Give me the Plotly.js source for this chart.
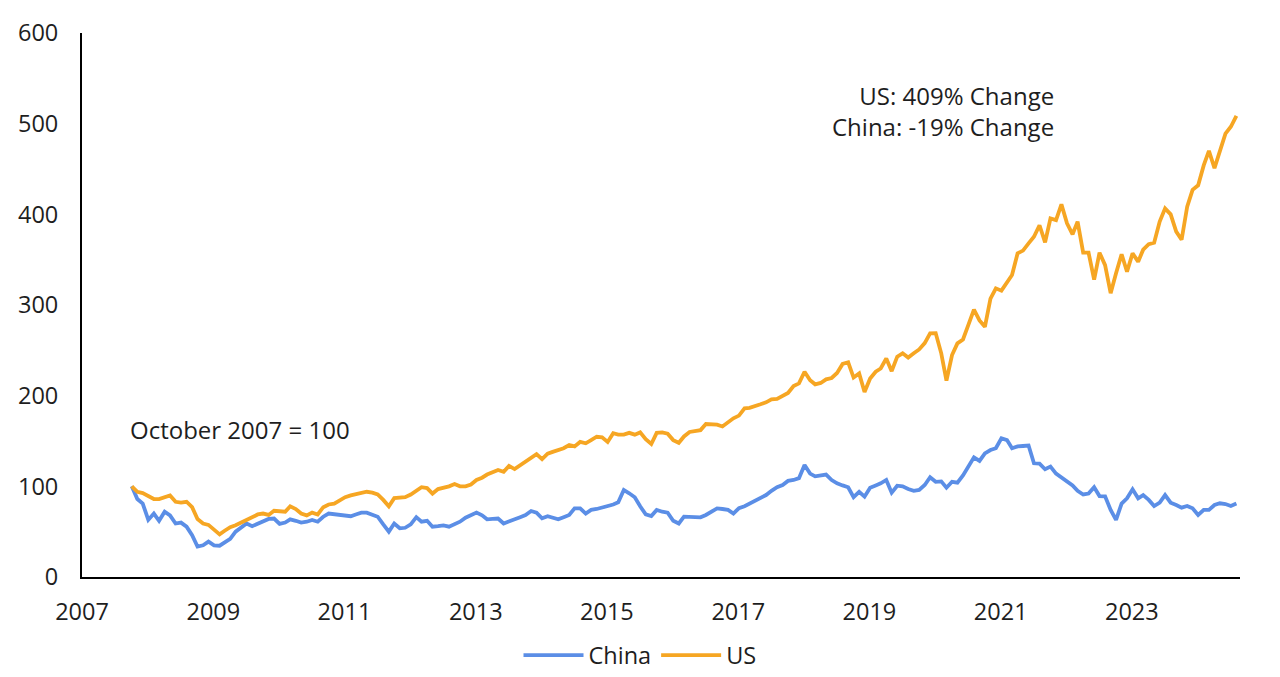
<!DOCTYPE html>
<html>
<head>
<meta charset="utf-8">
<script src="https://cdn.plot.ly/plotly-3.0.1.min.js"></script>
<style>html,body{margin:0;padding:0;background:#fff;}#chart{width:1280px;height:677px;}</style>
</head>
<body>
<div id="chart"></div>
<script>
// Monthly index values, October 2007 = 100 (Oct 2007 .. Aug 2024)
const startYear = 2007, startMonth = 10;
const seriesNames = ["China", "US"];
const chinaValues = [
  100, 86, 81,                                                  // 2007 Oct-Dec
  63, 70, 62, 72, 68, 59, 60, 55.5, 46, 33.5, 35, 39,           // 2008
  35, 34.5, 38, 42, 50, 54.4, 59, 56, 59, 62, 64, 64.5,         // 2009
  58.5, 60, 63.6, 62, 60, 61, 63, 61, 66.5, 70, 69.5, 69,       // 2010
  68, 67, 69, 71, 71, 69, 66.5, 58, 50, 59, 53.7, 54.3,         // 2011
  58, 66, 61, 62, 55.5, 56, 57, 55.5, 58, 61, 65.4, 68,         // 2012
  71, 68, 63.6, 64, 64.5, 59, 61, 63.6, 66, 68.4, 72.8, 71,     // 2013
  64.7, 67, 65, 63.6, 66, 68.4, 75.7, 75.7, 70, 74, 75, 76.5,   // 2014
  78, 80, 82.4, 96, 92.3, 88, 78, 69, 67.3, 74, 72, 71,         // 2015
  62, 59, 66.5, 66.5, 66, 65.8, 68.4, 72, 75.7, 75, 74, 70,     // 2016
  76, 78, 81, 84, 87, 90.4, 95, 99, 101.5, 106, 107, 109,       // 2017
  123.5, 114, 111, 112, 113, 107, 103.3, 101, 99, 88, 94, 88.6, // 2018
  98.5, 101, 103.3, 107, 93, 100.7, 100, 97, 95, 96, 101.5, 110,// 2019
  105, 105.5, 98.5, 105, 104, 112, 122, 132, 128, 136.4, 140, 142, // 2020
  153, 151, 142, 144, 144.5, 145, 125.4, 125, 118.8, 121.7, 114, 110, // 2021
  106, 101, 95, 91, 92, 99, 89.3, 89, 74, 63, 81, 86.8,         // 2022
  96.7, 86.8, 90.4, 85, 78.3, 82, 90.4, 82, 79.4, 76.5, 78.3, 75.7, // 2023
  68.4, 74, 74, 79.4, 81.3, 80.5, 78.3, 81                      // 2024 Jan-Aug
];
const usValues = [
  100, 94, 92.5,                                                // 2007 Oct-Dec
  89, 86, 86, 88, 90, 83, 82, 83, 77, 64, 59, 57.5,             // 2008
  52, 47, 51, 55, 57, 60, 63, 66.5, 69, 70, 68.5, 73,           // 2009
  73, 72, 78, 75, 70, 68, 71, 69, 77, 80, 81, 85,               // 2010
  88, 90, 91, 92, 94, 93, 91, 85, 78, 87, 87.5, 88,             // 2011
  91, 95, 99, 98, 92, 97, 98, 100, 102.5, 100, 100, 102,        // 2012
  107, 109.5, 113, 115, 118, 116, 122.5, 119, 123, 127, 131, 135.6, // 2013
  130, 136, 138, 140, 142, 145.6, 144, 149, 147.5, 151, 154.7, 154, // 2014
  149, 158.5, 157, 157, 159, 157, 159.5, 152, 146.7, 159, 159.5, 158, // 2015
  151, 148, 155, 160, 161, 162, 168.7, 168.5, 168, 166, 171, 175, // 2016
  178, 186, 186.5, 188, 190.5, 192.7, 196, 196.5, 200, 203, 210.7, 213.6, // 2017
  226.4, 217, 212.5, 214, 218, 219.5, 225, 235, 236.8, 220, 224.6, 204, // 2018
  219, 226.4, 230, 241, 227, 243, 246.7, 242, 246.7, 251, 258, 268.8, // 2019
  269, 246.7, 216.5, 244.8, 257.7, 262, 278, 295, 283, 276, 307, 318.4, // 2020
  315.8, 325, 333, 357, 360, 368, 375.3, 388, 369, 395.6, 393.7, 411, // 2021
  390, 378, 392, 357.7, 357.7, 328, 357.7, 344, 313, 335, 356, 336.7, // 2022
  357, 347.8, 361, 367, 368.7, 392, 406.6, 400, 381, 372, 408.4, 427, // 2023
  432, 454, 470, 451, 470, 489, 496.6, 508.5                    // 2024 Jan-Aug
];
const tickYears = ["2007","2009","2011","2013","2015","2017","2019","2021","2023"];
const notes = ["US: 409% Change", "China: -19% Change", "October 2007 = 100"];
const colors = {China: "#5B8EE6", US: "#F6A623"};

function monthDates(n) {
  const out = [];
  for (let i = 0; i < n; i++) {
    const t = (startMonth - 1) + i;
    const y = startYear + Math.floor(t / 12);
    const m = (t % 12) + 1;
    out.push(y + "-" + String(m).padStart(2, "0") + "-05");
  }
  return out;
}
const dates = monthDates(chinaValues.length);

const font = {family: "'Open Sans', 'Noto Sans', sans-serif", size: 23.5, color: "#1e1e1e"};
const noteFont = {family: "'Open Sans', 'Noto Sans', sans-serif", size: 24, color: "#1e1e1e"};

const traces = [
  {x: dates, y: chinaValues, name: seriesNames[0], type: "scatter", mode: "lines",
   line: {color: colors.China, width: 3.8}},
  {x: dates, y: usValues, name: seriesNames[1], type: "scatter", mode: "lines",
   line: {color: colors.US, width: 3.8}}
];

const layout = {
  width: 1280, height: 677,
  margin: {l: 82, r: 40, t: 33, b: 100, autoexpand: false},
  paper_bgcolor: "#fff", plot_bgcolor: "#fff",
  font: font,
  showlegend: true,
  legend: {orientation: "h", xref: "container", yref: "container",
           x: 0.500, xanchor: "center", y: 0.032, yanchor: "middle",
           font: font, itemwidth: 60, tracegroupgap: 0},
  xaxis: {
    type: "date",
    range: ["2007-01-01", "2024-08-25"],
    tickvals: tickYears.map(y => y + "-01-01"),
    ticktext: tickYears,
    showgrid: false, zeroline: false,
    showline: true, linecolor: "#000", linewidth: 2,
    ticks: "", ticklabelstandoff: 13,
    tickfont: font
  },
  yaxis: {
    range: [0, 600], dtick: 100, tick0: 0,
    showgrid: false, zeroline: false,
    showline: true, linecolor: "#000", linewidth: 2,
    ticks: "", ticklabelstandoff: 17,
    tickfont: font
  },
  annotations: [
    {xref: "paper", yref: "paper", x: 0.841, y: 0.856, xanchor: "right", yanchor: "middle",
     align: "right", text: notes[0] + "<br>" + notes[1], showarrow: false, font: noteFont},
    {xref: "paper", yref: "paper", x: 0.040, y: 0.272, xanchor: "left", yanchor: "middle",
     text: notes[2], showarrow: false, font: noteFont}
  ]
};

Plotly.newPlot("chart", traces, layout, {displayModeBar: false, staticPlot: true});
</script>
</body>
</html>
